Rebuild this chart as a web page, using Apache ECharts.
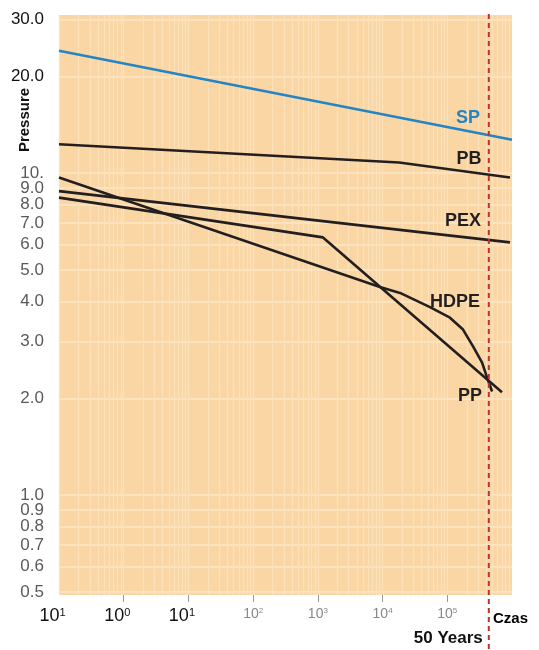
<!DOCTYPE html>
<html>
<head>
<meta charset="utf-8">
<script src="https://cdn.jsdelivr.net/npm/echarts@6/dist/echarts.min.js"></script>
<style>
html, body { margin: 0; padding: 0; background: #fff; }
#main { width: 539px; height: 650px; }
</style>
</head>
<body>
<div id="main"></div>
<script>
// czas [h] (log) / ciśnienie (log)
var spX = [0.1, 1000000];
var spY = [24.0, 12.7];
var pbX = [0.1, 18000, 930000];
var pbY = [12.3, 10.8, 9.7];
var pexX = [0.1, 930000];
var pexY = [8.8, 6.1];
var hdpeX = [0.1, 9100, 18600, 54000, 110000, 175000, 250000, 345000, 412000, 492000];
var hdpeY = [9.7, 4.43, 4.25, 3.84, 3.56, 3.27, 2.90, 2.58, 2.32, 2.10];
var ppX = [0.1, 1200, 700000];
var ppY = [8.4, 6.32, 2.09];

var yTicks = [30, 20, 10, 9, 8, 7, 6, 5, 4, 3, 2, 1, 0.9, 0.8, 0.7, 0.6, 0.5];
var yTickLabels = ['30.0', '20.0', '10.', '9.0', '8.0', '7.0', '6.0', '5.0', '4.0', '3.0', '2.0', '1.0', '0.9', '0.8', '0.7', '0.6', '0.5'];
var xTicks = [0.1, 1, 10, 100, 1000, 10000, 100000];
var xTickSup = ['1', '0', '1', '2', '3', '4', '5'];
var fiftyYears = 438000; // 50 lat w godzinach

// pionowe linie siatki 2..9 w każdej dekadzie
var xGrid = [];
for (var k = -1; k < 6; k++) {
	for (var m = 1; m < 10; m++) {
		xGrid.push(m * Math.pow(10, k));
	}
}

var black = '#231f20';
var blue = '#2584c4';
var labelFont = 'Liberation Sans, Arial, sans-serif';
var narrowFont = 'Liberation Sans Narrow, Liberation Sans, Arial, sans-serif';

function pairs(xs, ys) {
	return xs.map(function (x, i) { return [x, ys[i]]; });
}

function lineSeries(name, xs, ys, color, lblCoord) {
	return {
		name: name,
		type: 'line',
		data: pairs(xs, ys),
		symbol: 'none',
		silent: true,
		lineStyle: { color: color, width: 2.6 },
		itemStyle: { color: color },
		markPoint: {
			symbolSize: 0,
			silent: true,
			label: {
				show: true, position: 'inside', formatter: name,
				color: color, fontSize: 18, fontWeight: 'bold', fontFamily: labelFont
			},
			data: [{ coord: lblCoord }]
		}
	};
}

function indexOfTick(arr, v) {
	for (var i = 0; i < arr.length; i++) {
		if (Math.abs(arr[i] - v) < 1e-6 * arr[i]) return i;
	}
	return -1;
}

var chart = echarts.init(document.getElementById('main'));

var option = {
	animation: false,
	backgroundColor: '#fff',
	grid: {
		left: 59, right: 27, top: 15, bottom: 55,
		show: true, backgroundColor: '#fad6a5', borderWidth: 0
	},
	xAxis: [{
		type: 'log',
		logBase: 10,
		min: 0.1,
		max: 1000000,
		axisLine: { show: false },
		axisTick: {
			show: true, length: 7, customValues: xTicks.slice(1),
			lineStyle: { color: '#999', width: 1 }
		},
		splitLine: { show: false },
		axisLabel: {
			customValues: xTicks,
			margin: 12,
			formatter: function (v) {
				var i = indexOfTick(xTicks, v);
				if (i < 0) return '';
				if (i < 3) return '{b|10}{bs|' + xTickSup[i] + '}{g|}';
				return '{s|10}{ss|' + xTickSup[i] + '}';
			},
			rich: {
				b: { fontSize: 18, color: '#111', fontFamily: labelFont },
				bs: { fontSize: 11, color: '#111', fontFamily: labelFont, verticalAlign: 'top' },
				g: { width: 13 },
				s: { fontSize: 14, color: '#888', fontFamily: narrowFont },
				ss: { fontSize: 8, color: '#888', fontFamily: narrowFont, verticalAlign: 'top' }
			}
		}
	}, {
		type: 'log',
		logBase: 10,
		min: 0.1,
		max: 1000000,
		position: 'top',
		axisLine: { show: false },
		axisLabel: { show: false },
		axisTick: { show: false, customValues: xGrid },
		splitLine: { show: true, lineStyle: { color: '#fce1bb', width: 1.2 } }
	}],
	yAxis: {
		type: 'log',
		logBase: 10,
		min: 0.49,
		max: 31,
		axisLine: { show: false },
		axisTick: { show: false, customValues: yTicks },
		splitLine: { show: true, lineStyle: { color: '#fde7c9', width: 1.5 } },
		axisLabel: {
			customValues: yTicks,
			margin: 15,
			fontSize: 17,
			fontFamily: narrowFont,
			formatter: function (v) {
				var i = indexOfTick(yTicks, v);
				if (i < 0) return '';
				return i < 2 ? '{k|' + yTickLabels[i] + '}' : yTickLabels[i];
			},
			color: '#5a5a5a',
			rich: {
				k: { fontSize: 17, color: '#111', fontFamily: narrowFont }
			}
		}
	},
	series: [
		lineSeries('SP', spX, spY, blue, [209000, 14.8]),
		lineSeries('PB', pbX, pbY, black, [217000, 11.1]),
		lineSeries('PEX', pexX, pexY, black, [175000, 7.13]),
		lineSeries('HDPE', hdpeX, hdpeY, black, [132000, 3.98]),
		lineSeries('PP', ppX, ppY, black, [225000, 2.03])
	]
};
chart.setOption(option);

// linia 50 lat i opisy osi
var lx = chart.convertToPixel({ xAxisIndex: 0 }, fiftyYears);
chart.setOption({
	graphic: [{
		type: 'line',
		silent: true,
		shape: { x1: lx, y1: 14, x2: lx, y2: 650 },
		style: { stroke: '#c0322b', lineWidth: 2, lineDash: [5, 4] },
		z: 100
	}, {
		type: 'text',
		left: 493, top: 611,
		style: { text: 'Czas', fill: '#000', font: 'bold 15px ' + labelFont }
	}, {
		type: 'text',
		silent: true,
		x: lx - 6, y: 638,
		style: {
			text: '50 Years', fill: '#111', font: 'bold 17px ' + narrowFont,
			textAlign: 'right', textVerticalAlign: 'middle'
		}
	}, {
		type: 'text',
		silent: true,
		x: 25, y: 120,
		rotation: Math.PI / 2,
		style: {
			text: 'Pressure', fill: '#111', font: 'bold 15px ' + labelFont,
			textAlign: 'center', textVerticalAlign: 'middle'
		}
	}]
});
</script>
</body>
</html>
